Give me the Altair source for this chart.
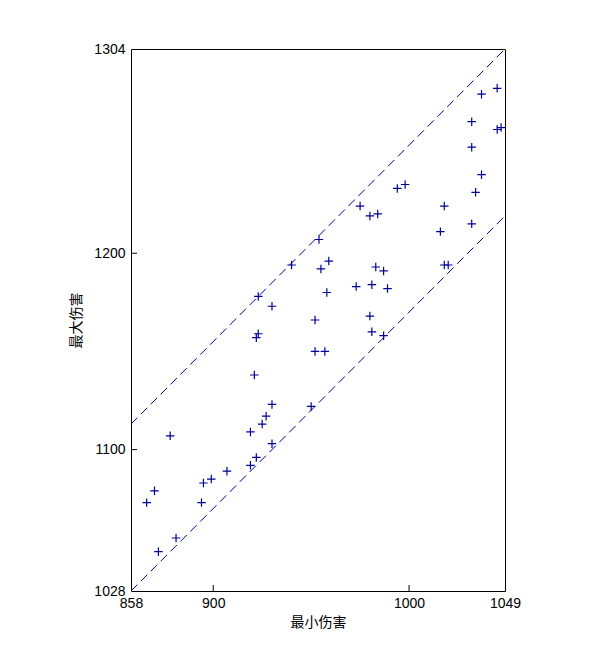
import altair as alt
import pandas as pd

# Data
min_damage = [866, 870, 872, 878, 881, 894, 895, 899, 907, 919, 919, 922, 921, 922,
              923, 923, 925, 927, 930, 930, 930, 940, 950, 952, 957, 952, 954, 955,
              959, 958, 973, 975, 980, 984, 981, 980, 981, 987, 983, 987, 989, 994,
              998, 1016, 1018, 1018, 1020, 1032, 1032, 1032, 1034, 1037, 1037, 1045,
              1045, 1047]
max_damage = [1073, 1079, 1048, 1107, 1055, 1073, 1083, 1085, 1089, 1092, 1109, 1096,
              1138, 1157, 1159, 1178, 1113, 1117, 1103, 1123, 1173, 1194, 1122, 1150,
              1150, 1166, 1207, 1192, 1196, 1180, 1183, 1224, 1219, 1220, 1184, 1168,
              1160, 1158, 1193, 1191, 1182, 1233, 1235, 1211, 1224, 1194, 1194, 1267,
              1254, 1215, 1231, 1240, 1281, 1284, 1263, 1264]

x_ticks = [858, 900, 1000, 1049]
y_ticks = [1028, 1100, 1200, 1304]
x_inner_ticks = [900, 1000]
y_inner_ticks = [1100, 1200]
line_offsets = [170, 255]
line_x = [858, 1049]

W, H = 374, 542
COLOR = "#000099"

pts = pd.DataFrame({"x": min_damage, "y": max_damage})
lines = pd.DataFrame(
    [{"x": x, "y": x + off, "line": str(off)} for off in line_offsets for x in line_x]
)

xs = alt.Scale(domain=[858, 1049], nice=False, zero=False)
ys = alt.Scale(domain=[1028, 1304], nice=False, zero=False)

xaxis = alt.Axis(values=x_ticks, format="d", grid=False, domain=False, ticks=False,
                 labelFont="Liberation Sans", labelFontSize=14, labelColor="black",
                 labelPadding=5, title="最小伤害", titleFont="Noto Sans CJK SC",
                 titleFontSize=14, titleFontWeight="normal", titleColor="black",
                 titlePadding=5, labelFlush=False)
yaxis = alt.Axis(values=y_ticks, format="d", grid=False, domain=False, ticks=False,
                 labelFont="Liberation Sans", labelFontSize=14, labelColor="black",
                 labelPadding=6, title="最大伤害", titleFont="Noto Sans CJK SC",
                 titleFontSize=14, titleFontWeight="normal", titleColor="black",
                 titlePadding=10, labelFlush=False)

line_layer = alt.Chart(lines).mark_line(
    color=COLOR, strokeWidth=1, strokeDash=[9, 5], clip=True
).encode(
    x=alt.X("x:Q", scale=xs, axis=xaxis),
    y=alt.Y("y:Q", scale=ys, axis=yaxis),
    detail="line:N",
)

point_layer = alt.Chart(pts).mark_point(
    shape="M-1,0L1,0M0,-1L0,1", size=72, filled=False, color=COLOR,
    strokeWidth=1.2, opacity=1
).encode(x=alt.X("x:Q", scale=xs), y=alt.Y("y:Q", scale=ys))

xt = alt.Chart(pd.DataFrame({"v": x_inner_ticks})).mark_rule(
    color="black", strokeWidth=1
).encode(x=alt.X("v:Q", scale=xs), y=alt.value(H), y2=alt.value(H - 6))

yt = alt.Chart(pd.DataFrame({"v": y_inner_ticks})).mark_rule(
    color="black", strokeWidth=1
).encode(y=alt.Y("v:Q", scale=ys), x=alt.value(0), x2=alt.value(6))

chart = alt.layer(line_layer, point_layer, xt, yt).properties(
    width=W, height=H,
    autosize=alt.AutoSizeParams(type="none"),
    padding={"left": 123, "top": 41, "right": 101, "bottom": 65},
    background="white",
).configure_view(stroke="black", strokeWidth=1)

chart.save("out.html", embed_options={"renderer": "svg", "actions": False})
